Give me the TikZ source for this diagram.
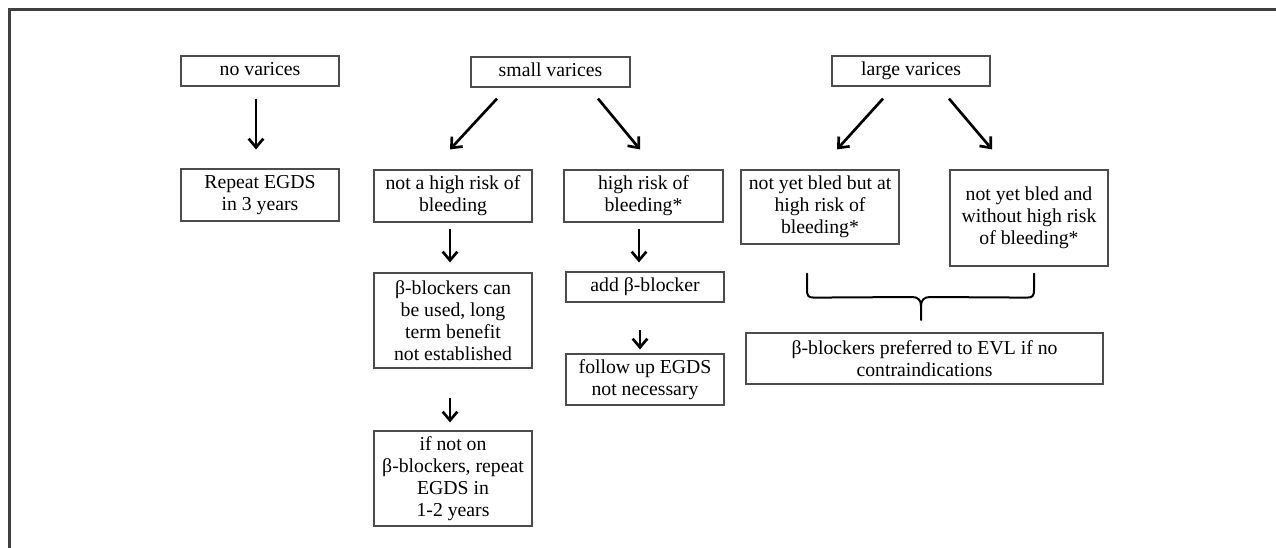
\documentclass[tikz,border=0pt]{standalone}
\usepackage{fontspec}
\setmainfont{Liberation Serif}
\usetikzlibrary{arrows.meta,calc}
\begin{document}
\begin{tikzpicture}[x=0.75pt,y=-0.75pt,
  box/.style={draw=black!70,line width=0.9pt,align=center,inner sep=0pt,
    font=\fontsize{14.8}{16.5}\selectfont},
  w1/.style={minimum width=118.5pt},
  arr/.style={line width=2pt,-{Straight Barb[length=6.5pt,width=11pt,line width=2pt]}},
  frame/.style={line width=1.6pt,draw=black!75},
  bracepath/.style={line width=1.5pt,line cap=round,line join=round}]
\useasboundingbox (0,0) rectangle (1276,547);
\draw[frame] (9.5,548) -- (9.5,9.5) -- (1277,9.5);

\node[box,w1,minimum height=22.5pt] (nov) at (260,71) {\strut no varices};
\node[box,minimum width=119.25pt,minimum height=22.5pt] (small) at (550.5,72) {\strut small varices};
\node[box,w1,minimum height=22.5pt] (large) at (911,71) {\strut large varices};

\node[box,w1,minimum height=39pt] (rep) at (260,195) {Repeat EGDS\\in 3 years};
\node[box,w1,minimum height=39pt] (nothigh) at (453,196) {not a high risk of\\bleeding};
\node[box,minimum width=119.25pt,minimum height=39pt] (high) at (643.5,196) {high risk of\\bleeding*};
\node[box,w1,minimum height=55.5pt] (ybut) at (820,207) {not yet bled but at\\high risk of\\bleeding*};
\node[box,w1,minimum height=72pt] (yand) at (1029,218) {not yet bled and\\without high risk\\of bleeding*};

\node[box,w1,minimum height=71.25pt] (bcan) at (453,320.5) {β-blockers can\\be used, long\\term benefit\\not established};
\node[box,w1,minimum height=22.5pt] (add) at (645,287) {\strut add β-blocker};
\node[box,w1,minimum height=38.25pt] (follow) at (645,379.5) {follow up EGDS\\not necessary};
\node[box,w1,minimum height=71.25pt] (ifnot) at (453,478.5) {if not on\\β-blockers, repeat\\EGDS in\\1-2 years};
\node[box,minimum width=267.75pt,minimum height=38.25pt] (evl) at (924.5,358.5) {β-blockers preferred to EVL if no\\contraindications};

% arrows
\draw[arr] ($(nov.south)+(-4,12)$) -- ($(rep.north)+(-4,-19)$);
\draw[arr] ($(small.south)+(-53.5,11)$) -- ($(nothigh.north)+(-3,-20)$);
\draw[arr] ($(small.south)+(47.5,11)$) -- ($(high.north)+(-3.5,-20)$);
\draw[arr] ($(large.south)+(-28,12)$) -- ($(ybut.north)+(17,-20)$);
\draw[arr] ($(large.south)+(38,12)$) -- ($(yand.north)+(-37,-20)$);
\draw[arr] ($(nothigh.south)+(-3,6)$) -- ($(bcan.north)+(-3,-10)$);
\draw[arr] ($(high.south)+(-4.5,6)$) -- ($(add.north)+(-6,-9)$);
\draw[arr] ($(add.south)+(-5,27)$) -- ($(follow.north)+(-5,-4)$);
\draw[arr] ($(bcan.south)+(-3,29)$) -- ($(ifnot.north)+(-3,-8)$);

% brace joining the two large-varices branches
\coordinate (bl) at ($(ybut.south)+(-13,29)$);
\coordinate (br) at ($(yand.south)+(5,7)$);
\draw[bracepath] (bl) -- ++(0,16) .. controls ++(0,6) and ++(-6,0) .. ++(7,8)
  -- (912,297) .. controls (918,297) and (921,300) .. (921,306) -- (921,320);
\draw[bracepath] (br) -- ++(0,16) .. controls ++(0,6) and ++(6,0) .. ++(-7,8)
  -- (930,297) .. controls (924,297) and (921,300) .. (921,306);
\end{tikzpicture}
\end{document}
